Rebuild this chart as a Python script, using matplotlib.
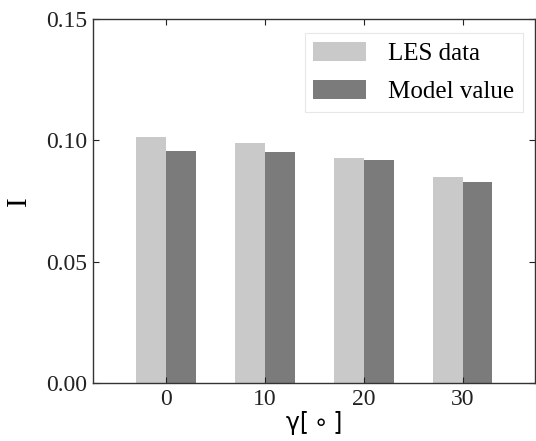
import numpy as np
import matplotlib
matplotlib.use("Agg")
import matplotlib.pyplot as plt

# inclination angles and the two series of I
angles = [0, 10, 20, 30]
les_data = [0.1014, 0.0989, 0.0927, 0.0849]
model_value = [0.0956, 0.0952, 0.0919, 0.0829]
y_ticks = [0.00, 0.05, 0.10, 0.15]

plt.rcParams["font.family"] = ["Liberation Serif", "DejaVu Serif"]

fig = plt.figure(figsize=(5.36, 4.41), dpi=100)
ax = fig.add_axes([0.1735, 0.1315, 0.8245, 0.8255])

x = np.arange(len(angles))
width = 0.3
ax.bar(x - width / 2, les_data, width, color="#c9c9c9", label="LES data")
ax.bar(x + width / 2, model_value, width, color="#7b7b7b", label="Model value")

ax.set_xlim(-0.74, 3.73)
ax.set_ylim(0, 0.15)
ax.set_xticks(x)
ax.set_xticklabels([str(a) for a in angles])
ax.set_yticks(y_ticks)
ax.set_yticklabels([f"{v:.2f}" for v in y_ticks])
ax.tick_params(direction="in", top=True, right=True, length=4, labelsize=17,
               colors="#222222", pad=4)
for s in ax.spines.values():
    s.set_color("#333333")
    s.set_linewidth(1.0)

ax.set_xlabel("γ[\u2009∘\u2009]", fontsize=17, labelpad=1,
              family=["DejaVu Sans", "Liberation Serif"])
ax.set_ylabel("I", fontsize=21, labelpad=10)

leg = ax.legend(loc="upper right", bbox_to_anchor=(0.985, 0.975), fontsize=18,
                fancybox=False, handlelength=2.1, handleheight=0.8,
                handletextpad=0.9, borderpad=0.35, labelspacing=0.6,
                borderaxespad=0.2)
leg.get_frame().set_edgecolor("#e2e2e2")
leg.get_frame().set_linewidth(0.8)

fig.savefig("out.png", dpi=100)
